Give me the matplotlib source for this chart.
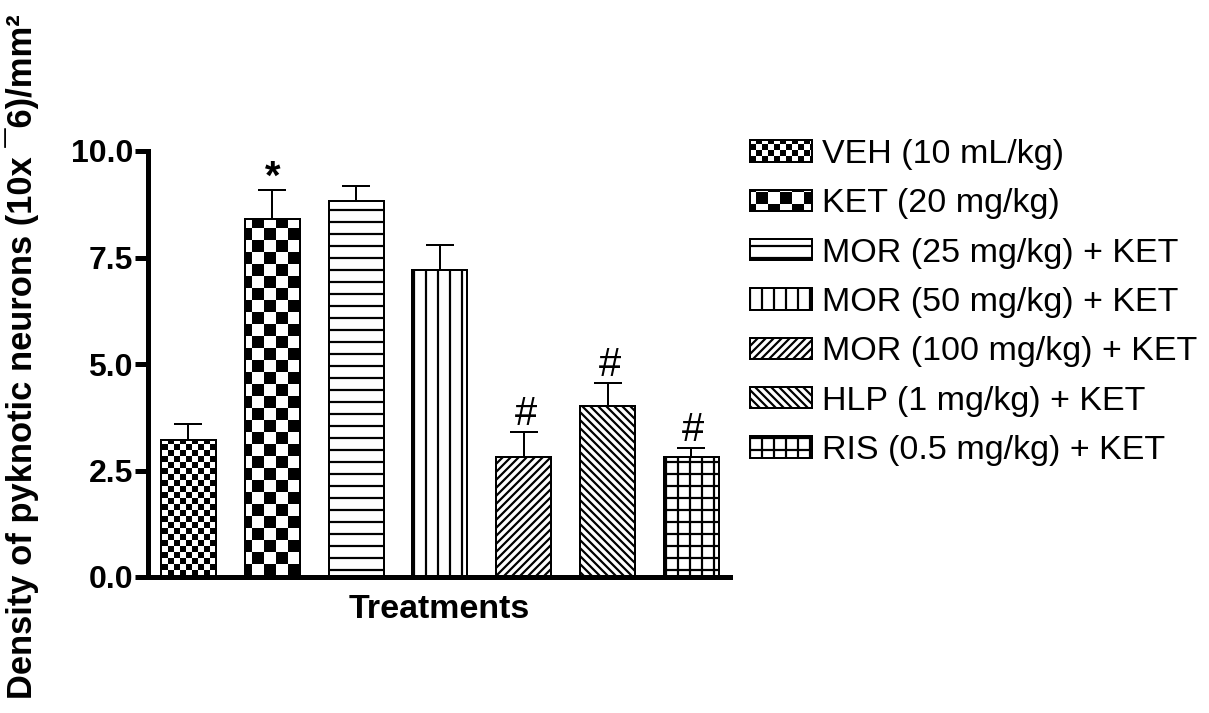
import warnings
import numpy as np
import matplotlib
matplotlib.use("Agg")
import matplotlib.pyplot as plt
import matplotlib.hatch as mhatch
from matplotlib.path import Path

warnings.filterwarnings("ignore")

# group means and SEM
groups = ["VEH (10 mL/kg)", "KET (20 mg/kg)", "MOR (25 mg/kg) + KET",
          "MOR (50 mg/kg) + KET", "MOR (100 mg/kg) + KET",
          "HLP (1 mg/kg) + KET", "RIS (0.5 mg/kg) + KET"]
means = [3.22, 8.40, 8.83, 7.21, 2.82, 4.01, 2.82]
sem = [0.36, 0.68, 0.35, 0.58, 0.58, 0.54, 0.21]
marks = ["", "*", "", "", "#", "#", "#"]
hatches = ["cc", "c", "-", "|", "///", "\\\\\\", "+"]

HATCH_LW = 2.2


# checkerboard hatch ('c' = big squares, 'cc' = small squares)
class Checker(mhatch.HatchPatternBase):
    def __init__(self, hatch, density):
        self.n = int(hatch.count("c") * density)
        self.num_vertices = (self.n * self.n // 2) * 5

    def set_vertices_and_codes(self, vertices, codes):
        s = 1.0 / self.n
        d = HATCH_LW / 2.0 / 72.0
        k = 0
        for i in range(self.n):
            for j in range(self.n):
                if (i + j) % 2:
                    continue
                x0, y0 = i * s + d, j * s + d
                x1, y1 = (i + 1) * s - d, (j + 1) * s - d
                vertices[k:k + 5] = [(x0, y0), (x1, y0), (x1, y1), (x0, y1), (x0, y0)]
                codes[k:k + 5] = [Path.MOVETO, Path.LINETO, Path.LINETO,
                                  Path.LINETO, Path.CLOSEPOLY]
                k += 5


mhatch._hatch_types.append(Checker)

plt.rcParams["font.family"] = ["Liberation Sans", "DejaVu Sans"]
plt.rcParams["hatch.linewidth"] = HATCH_LW
plt.rcParams["hatch.color"] = "black"

fig = plt.figure(figsize=(1209 / 72, 713 / 72), dpi=72)
ax = fig.add_axes([148 / 1209, 1 - 577 / 713, 582 / 1209, 426 / 713])

x = np.arange(len(means))
bars = ax.bar(x, means, width=0.656, color="white", edgecolor="black",
              linewidth=2, zorder=2)
for b, h, g in zip(bars, hatches, groups):
    b.set_hatch(h)
    b.set_label(g)

ax.errorbar(x, means, yerr=[np.zeros(len(sem)), sem], fmt="none",
            ecolor="black", elinewidth=2, capsize=14, capthick=2, zorder=3)

for i, m in enumerate(marks):
    if m == "*":
        ax.annotate(m, xy=(i, means[i] + sem[i]), xytext=(0, 1),
                    textcoords="offset points", ha="center", va="baseline",
                    fontsize=40, fontweight="bold")
    elif m:
        ax.annotate(m, xy=(i, means[i] + sem[i]), xytext=(2, 7),
                    textcoords="offset points", ha="center", va="baseline",
                    fontsize=40)

ax.set_xlim(-0.483, 6.46)
ax.set_ylim(0, 10)
ax.set_yticks([0, 2.5, 5, 7.5, 10])
ax.set_yticklabels(["%.1f" % v for v in [0, 2.5, 5, 7.5, 10]],
                   fontsize=32, fontweight="bold")
ax.set_xticks([])
ax.tick_params(axis="y", length=13, width=5, pad=2)

for s in ["top", "right"]:
    ax.spines[s].set_visible(False)
for s in ["left", "bottom"]:
    ax.spines[s].set_linewidth(5)

ax.set_xlabel("Treatments", fontsize=34, fontweight="bold", va="baseline")
ax.xaxis.set_label_coords(0.5, (577 - 618) / 426)
ax.set_ylabel("Density of pyknotic neurons (10x \u00af6)/mm\u00b2",
              fontsize=34.5, fontweight="bold", va="center")
ax.yaxis.set_label_coords((22 - 148) / 582, (577 - 357) / 426)

ax.legend(loc="upper left", bbox_to_anchor=(750 / 1209, 1 - 139 / 713),
          bbox_transform=fig.transFigure, frameon=False, fontsize=34,
          handlelength=1.82, handleheight=0.59, handletextpad=0.3,
          labelspacing=0.54, borderpad=0, borderaxespad=0)

fig.savefig("out.png", dpi=72, facecolor="white")
